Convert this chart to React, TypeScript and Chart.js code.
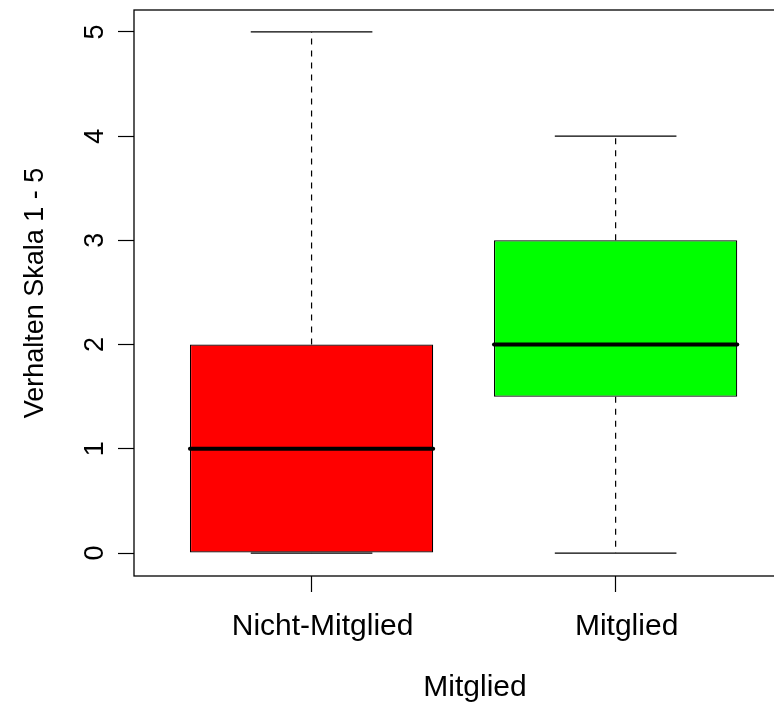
import React, { useEffect, useRef } from "react";
import { Chart, registerables } from "chart.js";

Chart.register(...registerables);

// ---- data ----
const categories = ["Nicht-Mitglied", "Mitglied"];
const mins = [0, 0];
const q1s = [0, 1.5];
const medians = [1, 2];
const q3s = [2, 3];
const maxs = [5, 4];
const boxColors = ["#FF0000", "#00FF00"];
const yTicks = [0, 1, 2, 3, 4, 5];
const yMin = -0.22;
const yMax = 5.21;
const xMin = 0.416;
const xMax = 2.659;
const xTitle = "Mitglied";
const yTitle = "Verhalten Skala 1 - 5";

const FONT = "'Liberation Sans', Arial, Helvetica, sans-serif";

export default function App() {
  const ref = useRef<HTMLCanvasElement | null>(null);

  useEffect(() => {
    const canvas = ref.current;
    if (!canvas) return;
    Chart.defaults.color = "#000";
    Chart.defaults.font.family = FONT;

    const lineDs: any[] = [];
    categories.forEach((_, i) => {
      const x = i + 1;
      // dashed whiskers
      lineDs.push({
        type: "line",
        data: [
          { x, y: q3s[i] },
          { x, y: maxs[i] },
        ],
        borderColor: "#000",
        borderWidth: 1.2,
        borderDash: [6, 6],
        pointRadius: 0,
        order: 0,
      });
      lineDs.push({
        type: "line",
        data: [
          { x, y: q1s[i] },
          { x, y: mins[i] },
        ],
        borderColor: "#000",
        borderWidth: 1.2,
        borderDash: [6, 6],
        pointRadius: 0,
        order: 0,
      });
      // caps
      [maxs[i], mins[i]].forEach((v) => {
        lineDs.push({
          type: "line",
          data: [
            { x: x - 0.2, y: v },
            { x: x + 0.2, y: v },
          ],
          borderColor: "#000",
          borderWidth: 1.3,
          pointRadius: 0,
          order: 0,
        });
      });
      // median
      lineDs.push({
        type: "line",
        data: [
          { x: x - 0.4, y: medians[i] },
          { x: x + 0.4, y: medians[i] },
        ],
        borderColor: "#000",
        borderWidth: 4,
        borderCapStyle: "round",
        pointRadius: 0,
        order: -1,
      });
    });

    const framePlugin = {
      id: "frame",
      afterDraw(chart: any) {
        const { ctx, chartArea } = chart;
        ctx.save();
        ctx.strokeStyle = "#000";
        ctx.lineWidth = 1.3;
        ctx.strokeRect(chartArea.left, chartArea.top, chartArea.right - chartArea.left, chartArea.bottom - chartArea.top);
        ctx.restore();
      },
    };

    const chart = new Chart(canvas, {
      type: "bar",
      data: {
        datasets: [
          {
            type: "bar",
            data: categories.map((_, i) => ({ x: i + 1, y: [q1s[i], q3s[i]] })) as any,
            backgroundColor: boxColors,
            borderColor: "#000",
            borderWidth: 1.2,
            borderSkipped: false,
            barPercentage: 0.8,
            categoryPercentage: 1,
            order: 1,
          } as any,
          ...lineDs,
        ],
      },
      plugins: [framePlugin],
      options: {
        responsive: false,
        maintainAspectRatio: false,
        animation: false,
        devicePixelRatio: 1,
        layout: { padding: { top: 10, right: 14, bottom: 0, left: 0 } },
        plugins: {
          legend: { display: false },
          tooltip: { enabled: false },
        },
        scales: {
          x: {
            type: "linear",
            min: xMin,
            max: xMax,
            offset: false,
            afterBuildTicks: (s: any) => {
              s.ticks = categories.map((_, i) => ({ value: i + 1 }));
            },
            afterFit: (s: any) => {
              s.height = 131;
              s.paddingLeft = 0;
              s.paddingRight = 0;
            },
            ticks: {
              callback: (v: any) => categories[Math.round(v) - 1] ?? "",
              font: { size: 30, family: FONT },
              color: "#000",
              padding: 17,
              labelOffset: 11,
              maxRotation: 0,
              minRotation: 0,
              autoSkip: false,
            },
            grid: {
              offset: false,
              drawOnChartArea: false,
              drawTicks: true,
              tickLength: 16,
              tickColor: "#000",
              tickWidth: 1.2,
            },
            border: { display: false },
            title: {
              display: true,
              text: xTitle,
              font: { size: 30, family: FONT },
              color: "#000",
              padding: { top: 0, bottom: 1 },
            },
          },
          y: {
            type: "linear",
            min: yMin,
            max: yMax,
            afterBuildTicks: (s: any) => {
              s.ticks = yTicks.map((v) => ({ value: v }));
            },
            afterFit: (s: any) => {
              s.width = 134;
              s.paddingTop = 0;
              s.paddingBottom = 0;
            },
            ticks: {
              font: { size: 27, family: FONT },
              color: "#000",
              padding: 15,
              minRotation: 90,
              maxRotation: 90,
              crossAlign: "center",
              autoSkip: false,
            },
            grid: {
              drawOnChartArea: false,
              drawTicks: true,
              tickLength: 16,
              tickColor: "#000",
              tickWidth: 1.2,
            },
            border: { display: false },
            title: {
              display: true,
              text: yTitle,
              font: { size: 27, family: FONT },
              color: "#000",
              padding: { top: 19, bottom: 0 },
            },
          },
        },
      } as any,
    });
    return () => chart.destroy();
  }, []);

  return (
    <div
      style={{
        position: "fixed",
        left: 0,
        top: 0,
        width: 774,
        height: 707,
        overflow: "hidden",
        background: "#fff",
      }}
    >
      <canvas ref={ref} width={830} height={707} style={{ display: "block", width: 830, height: 707 }} />
    </div>
  );
}
